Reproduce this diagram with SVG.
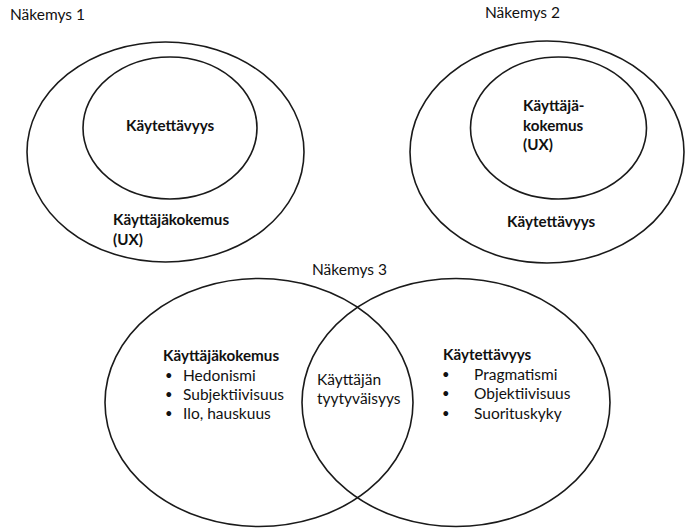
<svg xmlns="http://www.w3.org/2000/svg" width="686" height="530" viewBox="0 0 686 530">
<style>
.e{fill:none;stroke:#1a1a1a;stroke-width:1.6}
.t{font-family:Lato,"Open Sans",sans-serif;font-size:15.5px;fill:#111}
.b{font-weight:bold;font-size:15.2px}
.d{font-size:13px}
</style>
<rect width="686" height="530" fill="#fff"/>
<g id="view1">
<text class="t" x="10" y="20">Näkemys 1</text>
<ellipse id="v1-outer" class="e" cx="165.5" cy="152" rx="138.5" ry="110"/>
<ellipse id="v1-inner" class="e" cx="170" cy="128" rx="87" ry="71"/>
<text class="t b" x="126" y="131">Käytettävyys</text>
<text class="t b" x="113" y="225">Käyttäjäkokemus</text>
<text class="t b" x="113" y="245">(UX)</text>
</g>
<g id="view2">
<text class="t" x="485" y="18">Näkemys 2</text>
<ellipse id="v2-outer" class="e" cx="547" cy="152" rx="137" ry="111"/>
<ellipse id="v2-inner" class="e" cx="558.5" cy="128" rx="88" ry="71"/>
<text class="t b" x="523" y="111">Käyttäjä-</text>
<text class="t b" x="523" y="131">kokemus</text>
<text class="t b" x="523" y="150">(UX)</text>
<text class="t b" x="507" y="227">Käytettävyys</text>
</g>
<g id="view3">
<text class="t" x="312" y="275">Näkemys 3</text>
<ellipse id="v3-left" class="e" cx="259" cy="402.5" rx="154" ry="124"/>
<ellipse id="v3-right" class="e" cx="456" cy="402.5" rx="154" ry="124"/>
<text class="t b" x="163" y="361">Käyttäjäkokemus</text>
<text class="t d" x="165" y="380">•</text><text class="t" x="183" y="381">Hedonismi</text>
<text class="t d" x="165" y="399">•</text><text class="t" x="183" y="400">Subjektiivisuus</text>
<text class="t d" x="165" y="418">•</text><text class="t" x="183" y="419">Ilo, hauskuus</text>
<text class="t" x="317" y="385">Käyttäjän</text>
<text class="t" x="317" y="404">tyytyväisyys</text>
<text class="t b" x="443" y="360">Käytettävyys</text>
<text class="t d" x="442" y="379">•</text><text class="t" x="474" y="380">Pragmatismi</text>
<text class="t d" x="442" y="398">•</text><text class="t" x="474" y="399">Objektiivisuus</text>
<text class="t d" x="442" y="418">•</text><text class="t" x="474" y="419">Suorituskyky</text>
</g>
</svg>
